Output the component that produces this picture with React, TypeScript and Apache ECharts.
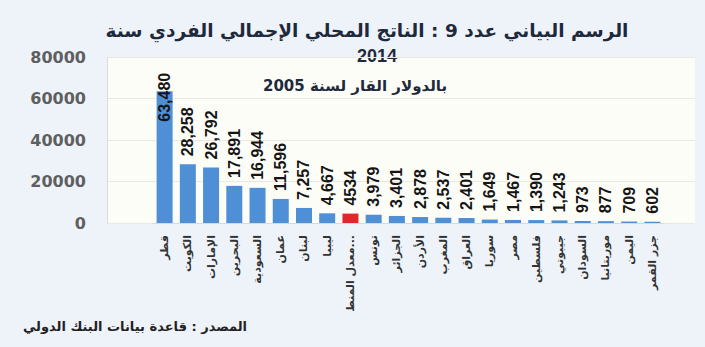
import React, { useEffect, useRef } from "react";
import * as echarts from "echarts";

const titleLine1 = "الرسم البياني عدد 9 : الناتج المحلي الإجمالي الفردي سنة";
const titleLine2 = "2014";
const subtitle = "بالدولار القار لسنة 2005";
const sourceText = "المصدر : قاعدة بيانات البنك الدولي";

const regionalAverage = "معدل المنطقة العربية";

const categories = [
  "قطر",
  "الكويت",
  "الإمارات",
  "البحرين",
  "السعودية",
  "عمان",
  "لبنان",
  "ليبيا",
  regionalAverage,
  "تونس",
  "الجزائر",
  "الأردن",
  "المغرب",
  "العراق",
  "سوريا",
  "مصر",
  "فلسطين",
  "جيبوتي",
  "السودان",
  "موريتانيا",
  "اليمن",
  "جزر القمر",
];

const values = [
  63480, 28258, 26792, 17891, 16944, 11596, 7257, 4667, 4534, 3979, 3401, 2878,
  2537, 2401, 1649, 1467, 1390, 1243, 973, 877, 709, 602,
];

const valueLabels = [
  "63,480", "28,258", "26,792", "17,891", "16,944", "11,596", "7,257", "4,667",
  "4534", "3,979", "3,401", "2,878", "2,537", "2,401", "1,649", "1,467", "1,390",
  "1,243", "973", "877", "709", "602",
];

const yTicks = { min: 0, max: 80000, interval: 20000 };

const BAR_BLUE = "#4e8fd5";
const BAR_RED = "#e3262a";

export default function App() {
  const ref = useRef<HTMLDivElement>(null);

  useEffect(() => {
    if (!ref.current) return;
    const chart = echarts.init(ref.current, undefined, { renderer: "svg" });

    const seriesData = values.map((v, i) => {
      const item: any = {
        value: v,
        itemStyle: { color: categories[i] === regionalAverage ? BAR_RED : BAR_BLUE },
      };
      if (i === 0) {
        item.label = { align: "center", distance: -6 };
      }
      return item;
    });

    chart.setOption({
      animation: false,
      backgroundColor: "#eef3fa",
      grid: [
        {
          left: 107,
          right: 10,
          top: 57,
          bottom: 124,
          show: true,
          backgroundColor: "#fdfdf7",
          borderWidth: 0,
          containLabel: false,
          outerBoundsMode: "none",
        },
        {
          left: 153,
          right: 41,
          top: 57,
          bottom: 124,
          containLabel: false,
          outerBoundsMode: "none",
        },
      ],
      xAxis: [
        { gridIndex: 0, type: "value", show: false },
        {
          gridIndex: 1,
          type: "category",
          data: categories,
          axisLine: { show: true, lineStyle: { color: "#d6d9dd" } },
          axisTick: { show: false },
          axisLabel: {
            rotate: 90,
            interval: 0,
            margin: 12,
            fontSize: 11,
            fontWeight: "bold",
            color: "#333",
            fontFamily: "DejaVu Sans",
            width: 110,
            overflow: "truncate",
            ellipsis: "...",
          },
        },
      ],
      yAxis: [
        {
          gridIndex: 0,
          type: "value",
          min: yTicks.min,
          max: yTicks.max,
          interval: yTicks.interval,
          axisLine: { show: true, lineStyle: { color: "#d4d4d4", type: "dotted" } },
          axisTick: { show: false },
          axisLabel: {
            margin: 21,
            fontSize: 16,
            fontWeight: "bold",
            color: "#5f5f5f",
            fontFamily: "DejaVu Sans",
            formatter: (v: number) => String(v),
          },
          splitLine: { show: true, lineStyle: { color: "#e9e9e2" } },
        },
        {
          gridIndex: 1,
          type: "value",
          min: yTicks.min,
          max: yTicks.max,
          interval: yTicks.interval,
          show: false,
          splitLine: { show: false },
        },
      ],
      series: [
        {
          type: "bar",
          xAxisIndex: 1,
          yAxisIndex: 1,
          data: seriesData,
          barWidth: 16,
          label: {
            show: true,
            position: "top",
            rotate: 90,
            align: "left",
            verticalAlign: "middle",
            distance: 8,
            fontSize: 16,
            fontWeight: "bold",
            color: "#151515",
            fontFamily: "Liberation Sans",
            formatter: (p: any) => valueLabels[p.dataIndex],
          },
        },
      ],
      graphic: [
        {
          type: "text",
          x: 367,
          y: 30,
          style: {
            text: titleLine1,
            fontSize: 18.5,
            fontWeight: "bold",
            fontFamily: "DejaVu Sans",
            fill: "#1e2a3c",
            textAlign: "center",
            textVerticalAlign: "middle",
          },
        },
        {
          type: "text",
          x: 377,
          y: 56,
          style: {
            text: titleLine2,
            fontSize: 18,
            fontWeight: "bold",
            fontFamily: "Liberation Sans",
            fill: "#1e2a3c",
            textAlign: "center",
            textVerticalAlign: "middle",
          },
        },
        {
          type: "text",
          x: 355,
          y: 86,
          style: {
            text: subtitle,
            fontSize: 15,
            fontWeight: "bold",
            fontFamily: "DejaVu Sans",
            fill: "#1e2a3c",
            textAlign: "center",
            textVerticalAlign: "middle",
          },
        },
        {
          type: "text",
          x: 135,
          y: 326,
          style: {
            text: sourceText,
            fontSize: 13,
            fontWeight: "bold",
            fontFamily: "DejaVu Sans",
            fill: "#222",
            textAlign: "center",
            textVerticalAlign: "middle",
          },
        },
      ],
    });

    return () => chart.dispose();
  }, []);

  return (
    <div
      ref={ref}
      style={{ position: "fixed", left: 0, top: 0, width: 705, height: 347 }}
    />
  );
}
